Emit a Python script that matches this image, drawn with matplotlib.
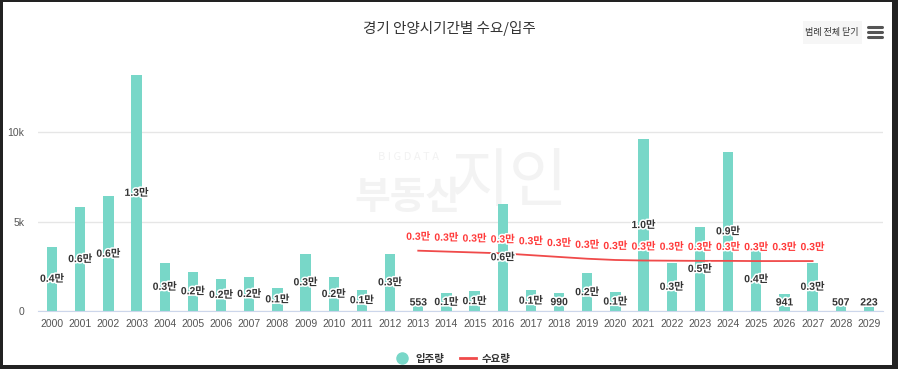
import numpy as np
import matplotlib
import matplotlib.pyplot as plt
import matplotlib.patheffects as pe
from matplotlib.lines import Line2D
from matplotlib.patches import Rectangle
from matplotlib import font_manager

# data
years = list(range(2000, 2030))
supply = [3600, 5800, 6400, 13200, 2700, 2200, 1800, 1900, 1300, 3200,
          1900, 1200, 3200, 553, 1000, 1100, 6000, 1150, 990, 2100,
          1050, 9600, 2700, 4700, 8900, 3550, 941, 2700, 507, 223]
demand_years = list(range(2013, 2028))
demand = [3370, 3320, 3270, 3220, 3120, 3020, 2920, 2850, 2820, 2810,
          2800, 2800, 2790, 2790, 2790]

title = "경기 안양시기간별 수요/입주"
legend_labels = ["입주량", "수요량"]

bar_color = "#78d7c8"
line_color = "#f04a4a"

names = {f.name for f in font_manager.fontManager.ttflist}
narrow = "Liberation Sans Narrow" if "Liberation Sans Narrow" in names else "Liberation Sans"
kr = "Noto Sans CJK KR"
plt.rcParams["font.family"] = [kr, "DejaVu Sans"]


def fmt(v):
    if v >= 1000:
        return f"{v / 10000:.1f}만"
    return str(v)


W, H = 898, 369
fig = plt.figure(figsize=(W / 100, H / 100), dpi=100)
fig.patch.set_facecolor("#222222")
fig.patches.append(Rectangle((3 / W, 4 / H), 889 / W, 363 / H, transform=fig.transFigure,
                             facecolor="white", edgecolor="none", zorder=-10))

ax = fig.add_axes([38 / W, 1 - 311 / H, 845 / W, (311 - 42.5) / H])
ax.patch.set_visible(False)

# watermark
ax.text(408 / W, 1 - 157 / H, "B I G D A T A", transform=fig.transFigure, ha="center", va="center",
        fontsize=8, color="#f2f2f2", zorder=0.5)
ax.text(408 / W, 1 - 197 / H, "부동산", transform=fig.transFigure, ha="center", va="center",
        fontsize=28, fontweight="bold", color="#f3f3f3", zorder=0.5)
ax.text(510 / W, 1 - 183 / H, "지인", transform=fig.transFigure, ha="center", va="center",
        fontsize=46, color="#f3f3f3", zorder=0.5)

x = np.arange(len(years))
ax.bar(x, supply, width=0.37, color=bar_color, zorder=2)

dx = [years.index(y) for y in demand_years]
ax.plot(dx, demand, color=line_color, lw=1.3, zorder=3)

outline = [pe.withStroke(linewidth=2.2, foreground="white")]
for xi, v in zip(x, supply):
    ax.text(xi, max(v / 2, 480), fmt(v), ha="center", va="center", fontsize=7.5,
            family=[narrow, kr], color="#333333", fontweight="bold",
            path_effects=outline, zorder=5)
for xi, v in zip(dx, demand):
    ax.annotate(fmt(v), (xi, v), xytext=(0, 10), textcoords="offset points",
                ha="center", va="center", fontsize=7.5, family=[narrow, kr],
                color="#ff3a3a", fontweight="bold", path_effects=outline, zorder=6)

ax.set_xlim(-0.5, len(years) - 0.5)
ax.set_ylim(0, 15000)
ax.set_yticks([0, 5000, 10000])
ax.set_yticklabels(["0", "5k", "10k"])
ax.set_xticks(x)
ax.set_xticklabels([str(y) for y in years])
for lab in ax.get_xticklabels() + ax.get_yticklabels():
    lab.set_family([narrow, kr])
    lab.set_fontsize(7.5)
    lab.set_color("#555555")
ax.tick_params(length=0, pad=6)
ax.tick_params(axis="y", pad=10)
ax.grid(axis="y", color="#e6e6e6", lw=1, zorder=0)
for s in ["top", "right", "left"]:
    ax.spines[s].set_visible(False)
ax.spines["bottom"].set_color("#ccd6eb")

fig.text(449 / W, 1 - 28 / H, title, ha="center", va="center", fontsize=10.5, color="#333333")

# export button + menu icon
fig.patches.append(Rectangle((803 / W, 1 - 44 / H), 59 / W, 23 / H, transform=fig.transFigure,
                             facecolor="#f6f6f6", edgecolor="none", zorder=-5))
fig.text(832 / W, 1 - 32.5 / H, "범례 전체 닫기", ha="center", va="center", fontsize=6.5, color="#333333")
for yy in [27, 32, 37]:
    fig.lines.append(Line2D([868 / W, 882 / W], [1 - yy / H, 1 - yy / H], transform=fig.transFigure,
                            color="#555555", lw=2.2, solid_capstyle="round"))

handles = [Line2D([], [], marker="o", ls="none", color=bar_color, markersize=8),
           Line2D([], [], color=line_color, lw=2)]
leg = fig.legend(handles, legend_labels, loc="center", bbox_to_anchor=(452 / W, 1 - 359 / H),
                 ncol=2, frameon=False, fontsize=7.5, handlelength=1.6, columnspacing=1.5,
                 handletextpad=0.5)
for t in leg.get_texts():
    t.set_fontweight("bold")
    t.set_color("#333333")

plt.savefig("out.png", dpi=100, facecolor=fig.get_facecolor())
